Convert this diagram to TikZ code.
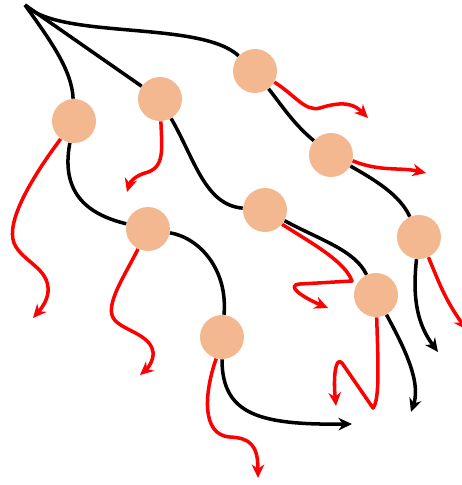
\documentclass[tikz,border=0pt]{standalone}
\usetikzlibrary{arrows.meta}
\definecolor{peach}{RGB}{243,184,143}
\begin{document}
\begin{tikzpicture}[x=0.02cm,y=-0.02cm,
  cell/.style={circle,fill=peach,minimum size=0.88cm,inner sep=0pt},
  walk/.style={line width=2pt,black,line join=round},
  jump/.style={line width=2pt,red,line join=round},
  tip/.style={-{Stealth[length=0.27cm,width=0.25cm]}}]
  \useasboundingbox (0,0) rectangle (462,485);

  \coordinate (O) at (25,5);
  \node[cell] (A) at (74,121) {};
  \node[cell] (B) at (160,99) {};
  \node[cell] (C) at (255,71) {};
  \node[cell] (D) at (331,155) {};
  \node[cell] (E) at (148,229) {};
  \node[cell] (F) at (265,210) {};
  \node[cell] (G) at (419,237) {};
  \node[cell] (H) at (376,295) {};
  \node[cell] (I) at (222,337) {};

  \coordinate (a) at (352,424);
  \coordinate (b) at (411,412);
  \coordinate (c) at (438,352);
  \coordinate (p1) at (33,318);
  \coordinate (p2) at (127,192);
  \coordinate (p3) at (368,118);
  \coordinate (p4) at (426,173);
  \coordinate (p5) at (140,375);
  \coordinate (p6) at (328,308);
  \coordinate (p7) at (467,330);
  \coordinate (p8) at (336,406);
  \coordinate (p9) at (258,478);

  \draw[walk] (O) .. controls (50,40) and (72,70) .. (A);
  \draw[walk] (A) .. controls (60,195) and (90,215) .. (E);
  \draw[walk] (E) .. controls (200,238) and (228,270) .. (I);
  \draw[walk,tip] (I) .. controls (222,415) and (260,425) .. (a);

  \draw[walk] (O) -- (B);
  \draw[walk] (B) .. controls (195,160) and (205,205) .. (F);
  \draw[walk] (F) .. controls (320,240) and (355,250) .. (H);
  \draw[walk,tip] (H) .. controls (400,340) and (422,380) .. (b);

  \draw[walk] (O) .. controls (60,40) and (200,20) .. (C);
  \draw[walk] (C) .. controls (285,110) and (295,125) .. (D);
  \draw[walk] (D) .. controls (375,180) and (400,195) .. (G);
  \draw[walk,tip] (G) .. controls (412,300) and (418,325) .. (c);

  \draw[jump,tip] (A) .. controls (30,180) and (6,222) .. (14,243)
    .. controls (22,262) and (50,268) .. (48,292)
    .. controls (47,302) and (40,310) .. (p1);
  \draw[jump,tip] (B) .. controls (162,150) and (165,168) .. (145,173)
    .. controls (135,176) and (130,182) .. (p2);
  \draw[jump,tip] (C.-30) .. controls (295,95) and (305,112) .. (320,108)
    .. controls (345,100) and (355,105) .. (p3);
  \draw[jump,tip] (D.-15) .. controls (380,172) and (400,167) .. (p4);
  \draw[jump,tip] (E) .. controls (125,275) and (108,300) .. (112,315)
    .. controls (116,330) and (150,332) .. (153,352)
    .. controls (154,360) and (148,368) .. (p5);
  \draw[jump,tip] (F.-40) .. controls (315,245) and (345,262) .. (352,281)
    -- (300,284) .. controls (285,285) and (302,297) .. (p6);
  \draw[jump,tip] (G.-65) .. controls (438,280) and (445,300) .. (p7);
  \draw[jump,tip] (H) .. controls (378,360) and (380,400) .. (373,408)
    -- (342,363) .. controls (336,356) and (333,375) .. (p8);
  \draw[jump,tip] (I.-105) .. controls (205,390) and (200,435) .. (230,437)
    .. controls (250,438) and (258,445) .. (p9);
\end{tikzpicture}
\end{document}
